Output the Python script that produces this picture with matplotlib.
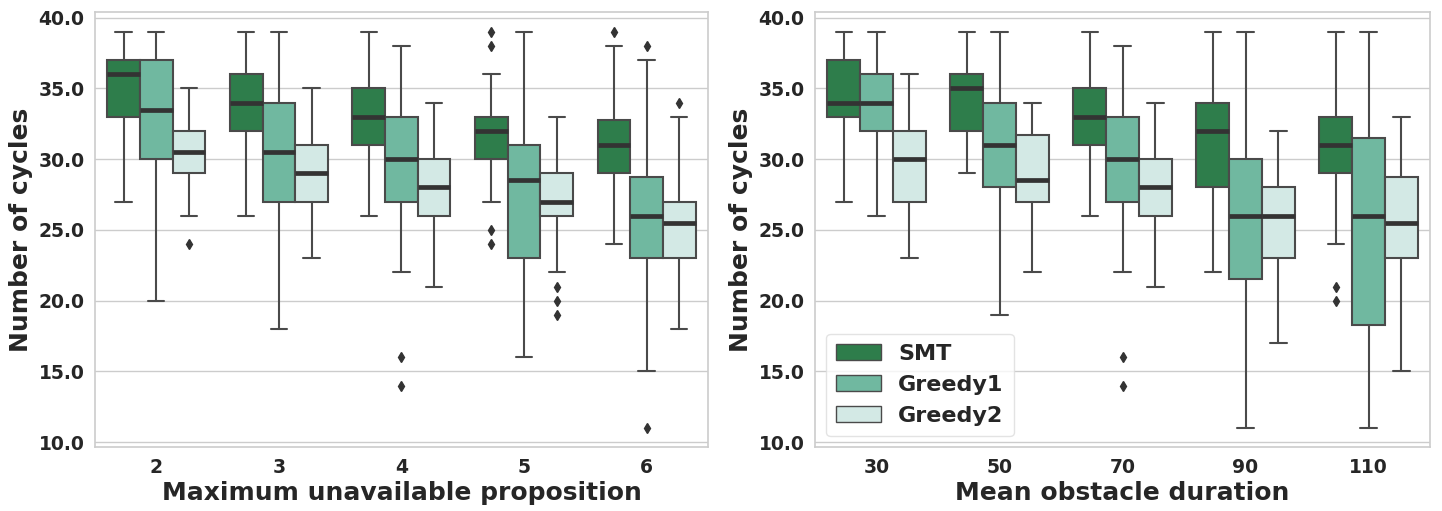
import matplotlib
matplotlib.use("Agg")
import matplotlib.pyplot as plt
import seaborn as sns
from matplotlib.patches import Patch
from matplotlib.ticker import FormatStrFormatter

sns.set_style("whitegrid")
plt.rcParams['font.family'] = ['DejaVu Sans']

series = ["SMT", "Greedy1", "Greedy2"]
colors = ["#2e7d4b", "#70b8a0", "#d3e9e5"]

# Left panel: Maximum unavailable proposition
left_cats = ["2", "3", "4", "5", "6"]
# each entry: (whislo, q1, med, q3, whishi, fliers)
left_smt = [
    (27, 33, 36, 37, 39, []),
    (26, 32, 34, 36, 39, []),
    (26, 31, 33, 35, 39, []),
    (27, 30, 32, 33, 36, [39, 38, 25, 24]),
    (24, 29, 31, 32.8, 38, [39]),
]
left_g1 = [
    (20, 30, 33.5, 37, 39, []),
    (18, 27, 30.5, 34, 39, []),
    (22, 27, 30, 33, 38, [16, 14]),
    (16, 23, 28.5, 31, 39, []),
    (15, 23, 26, 28.75, 37, [38, 11]),
]
left_g2 = [
    (26, 29, 30.5, 32, 35, [24]),
    (23, 27, 29, 31, 35, []),
    (21, 26, 28, 30, 34, []),
    (22, 26, 27, 29, 33, [21, 20, 19]),
    (18, 23, 25.5, 27, 33, [34]),
]

# Right panel: Mean obstacle duration
right_cats = ["30", "50", "70", "90", "110"]
right_smt = [
    (27, 33, 34, 37, 39, []),
    (29, 32, 35, 36, 39, []),
    (26, 31, 33, 35, 39, []),
    (22, 28, 32, 34, 39, []),
    (24, 29, 31, 33, 39, [21, 20]),
]
right_g1 = [
    (26, 32, 34, 36, 39, []),
    (19, 28, 31, 34, 39, []),
    (22, 27, 30, 33, 38, [16, 14]),
    (11, 21.5, 26, 30, 39, []),
    (11, 18.25, 26, 31.5, 39, []),
]
right_g2 = [
    (23, 27, 30, 32, 36, []),
    (22, 27, 28.5, 31.7, 34, []),
    (21, 26, 28, 30, 34, []),
    (17, 23, 26, 28, 32, []),
    (15, 23, 25.5, 28.75, 33, []),
]

edge = "#4a4a4a"
medc = "#333333"
width = 0.8 / 3

fig = plt.figure(figsize=(14.42, 5.11), dpi=100)
ax1 = fig.add_axes([0.0659, 0.125, 0.425, 0.8515])
ax2 = fig.add_axes([0.5652, 0.125, 0.4265, 0.8515])


def draw(ax, cats, data_list, xlabel, legend=False):
    for h, (data, col) in enumerate(zip(data_list, colors)):
        stats = []
        for (lo, q1, med, q3, hi, fl) in data:
            stats.append(dict(whislo=lo, q1=q1, med=med, q3=q3, whishi=hi, fliers=fl))
        pos = [i - width + h * width for i in range(len(cats))]
        ax.bxp(stats, positions=pos, widths=width, patch_artist=True,
               showfliers=True, manage_ticks=False,
               boxprops=dict(facecolor=col, edgecolor=edge, linewidth=1.5),
               whiskerprops=dict(color=edge, linewidth=1.5),
               capprops=dict(color=edge, linewidth=1.5),
               medianprops=dict(color=medc, linewidth=3.4),
               flierprops=dict(marker='d', markerfacecolor=medc, markeredgecolor=medc,
                               markersize=5, linestyle='none'))
    ax.set_xticks(range(len(cats)))
    ax.set_xticklabels(cats)
    ax.set_xlim(-0.5, len(cats) - 0.5)
    ax.set_ylim(9.65, 40.4)
    ax.set_yticks([10, 15, 20, 25, 30, 35, 40])
    ax.yaxis.set_major_formatter(FormatStrFormatter('%.1f'))
    ax.xaxis.grid(False)
    ax.yaxis.grid(True, color="#cccccc", linewidth=1)
    for s in ax.spines.values():
        s.set_color("#cccccc")
        s.set_linewidth(1.2)
    ax.tick_params(axis='both', labelsize=13.5, colors="#262626", pad=4)
    for lab in ax.get_xticklabels() + ax.get_yticklabels():
        lab.set_fontweight('bold')
    ax.set_xlabel(xlabel, fontsize=18, fontweight='bold', color="#262626", labelpad=3)
    ax.set_ylabel("Number of cycles", fontsize=18, fontweight='bold', color="#262626", labelpad=4)
    if legend:
        handles = [Patch(facecolor=c, edgecolor=edge, linewidth=1) for c in colors]
        leg = ax.legend(handles, series, loc='lower left',
                        prop=dict(weight='bold', size=16), frameon=True,
                        handlelength=2.0, handleheight=0.7, borderpad=0.45,
                        labelspacing=0.5)
        leg.get_frame().set_edgecolor("#dddddd")


draw(ax1, left_cats, [left_smt, left_g1, left_g2], "Maximum unavailable proposition")
draw(ax2, right_cats, [right_smt, right_g1, right_g2], "Mean obstacle duration", legend=True)

fig.savefig("out.png", dpi=100)
